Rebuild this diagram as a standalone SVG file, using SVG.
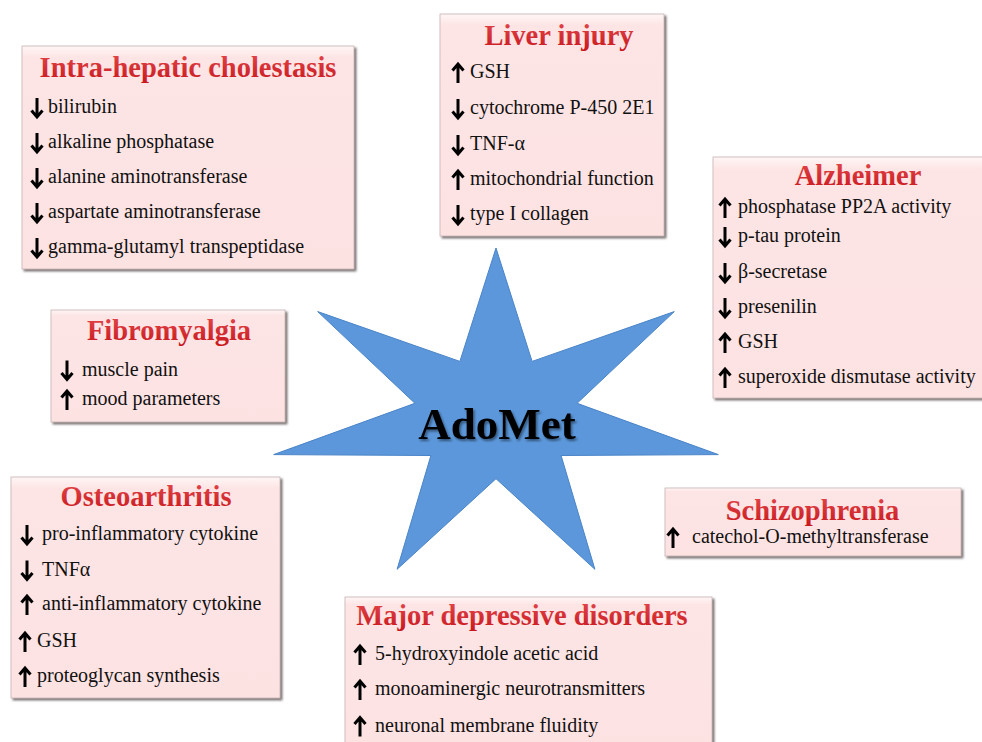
<svg xmlns="http://www.w3.org/2000/svg" xmlns:xlink="http://www.w3.org/1999/xlink" width="982" height="742" viewBox="0 0 982 742">
<defs>
<style>
.box{fill:url(#pink);stroke:#c9b3b3;stroke-width:0.8;filter:url(#sh)}
.title{font-family:"Liberation Serif","Times New Roman",serif;font-weight:bold;font-size:28.5px;fill:url(#red);text-anchor:middle}
.item{font-family:"Liberation Serif","Times New Roman",serif;font-size:20px;fill:#111}
.arr{fill:none;stroke:#000;stroke-width:3;stroke-linejoin:miter;stroke-linecap:butt}
.center{font-family:"Liberation Serif","Times New Roman",serif;font-weight:bold;font-size:45px;fill:#000;text-anchor:middle;filter:url(#tsh)}
</style>
<linearGradient id="pink" x1="0" y1="0" x2="0" y2="1">
<stop offset="0" stop-color="#fff6f6"/>
<stop offset="0.05" stop-color="#fde5e5"/>
<stop offset="1" stop-color="#fde2e2"/>
</linearGradient>
<linearGradient id="red" x1="0" y1="0" x2="0" y2="1">
<stop offset="0" stop-color="#e2474b"/>
<stop offset="1" stop-color="#c8181e"/>
</linearGradient>
<filter id="sh" x="-5%" y="-5%" width="112%" height="115%">
<feDropShadow dx="2" dy="2" stdDeviation="1.2" flood-color="#5f5555" flood-opacity="0.85"/>
</filter>
<filter id="tsh" x="-10%" y="-20%" width="120%" height="140%">
<feDropShadow dx="1.5" dy="2" stdDeviation="1.2" flood-color="#000" flood-opacity="0.45"/>
</filter>
<g id="up"><path class="arr" d="M0,10 V-8 M-5.5,-2.5 L0,-9 L5.5,-2.5"/></g>
<g id="dn"><path class="arr" d="M0,-10 V8 M-5.5,2.5 L0,9 L5.5,2.5"/></g>
</defs>

<rect width="982" height="742" fill="#ffffff"/>

<g id="star">
<polygon points="496,248 532.1,361.4 674.3,311.6 577.1,403.3 718.3,454.6 561.1,455.5 594.9,569.3 496,478.7 397.1,569.3 430.9,455.5 273.7,454.6 414.9,403.3 317.7,311.6 459.9,361.4" fill="#5b97da" stroke="#4a84c8" stroke-width="1"/>
<text class="center" x="497" y="439">AdoMet</text>
</g>

<g id="cholestasis">
<rect class="box" x="22" y="46" width="332" height="223"/>
<text class="title" x="188" y="77">Intra-hepatic cholestasis</text>
<use href="#dn" x="37" y="108"/><text class="item" x="48" y="112.5">bilirubin</text>
<use href="#dn" x="37" y="143"/><text class="item" x="48" y="148">alkaline phosphatase</text>
<use href="#dn" x="37" y="178"/><text class="item" x="48" y="183">alanine aminotransferase</text>
<use href="#dn" x="37" y="213"/><text class="item" x="48" y="218">aspartate aminotransferase</text>
<use href="#dn" x="37" y="248"/><text class="item" x="48" y="253">gamma-glutamyl transpeptidase</text>
</g>

<g id="liver">
<rect class="box" x="440" y="14" width="224" height="222"/>
<text class="title" x="559" y="45">Liver injury</text>
<use href="#up" x="458" y="73"/><text class="item" x="470" y="78">GSH</text>
<use href="#dn" x="458" y="109"/><text class="item" x="470" y="114">cytochrome P-450 2E1</text>
<use href="#dn" x="458" y="145"/><text class="item" x="470" y="150">TNF-α</text>
<use href="#up" x="458" y="180"/><text class="item" x="470" y="185">mitochondrial function</text>
<use href="#dn" x="458" y="215"/><text class="item" x="470" y="220">type I collagen</text>
</g>

<g id="alzheimer">
<rect class="box" x="713" y="157" width="275" height="241"/>
<text class="title" x="858" y="185">Alzheimer</text>
<use href="#up" x="725" y="208"/><text class="item" x="738" y="213">phosphatase PP2A activity</text>
<use href="#dn" x="725" y="237"/><text class="item" x="738" y="242">p-tau protein</text>
<use href="#dn" x="725" y="273"/><text class="item" x="738" y="278">β-secretase</text>
<use href="#dn" x="725" y="308"/><text class="item" x="738" y="313">presenilin</text>
<use href="#up" x="725" y="343"/><text class="item" x="738" y="348">GSH</text>
<use href="#up" x="725" y="378"/><text class="item" x="738" y="383">superoxide dismutase activity</text>
</g>

<g id="fibromyalgia">
<rect class="box" x="51" y="310" width="234" height="112"/>
<text class="title" x="169" y="340">Fibromyalgia</text>
<use href="#dn" x="67" y="370.5"/><text class="item" x="82" y="375.5">muscle pain</text>
<use href="#up" x="67" y="400"/><text class="item" x="82" y="405">mood parameters</text>
</g>

<g id="osteoarthritis">
<rect class="box" x="11" y="477" width="269" height="221"/>
<text class="title" x="146" y="506">Osteoarthritis</text>
<use href="#dn" x="27" y="535"/><text class="item" x="42" y="540">pro-inflammatory cytokine</text>
<use href="#dn" x="27" y="570.5"/><text class="item" x="42" y="575.5">TNFα</text>
<use href="#up" x="27" y="605"/><text class="item" x="42" y="610">anti-inflammatory cytokine</text>
<use href="#up" x="25" y="642"/><text class="item" x="37" y="647">GSH</text>
<use href="#up" x="25" y="677"/><text class="item" x="37" y="682">proteoglycan synthesis</text>
</g>

<g id="depressive">
<rect class="box" x="345" y="597" width="367" height="152"/>
<text class="title" x="522" y="625">Major depressive disorders</text>
<use href="#up" x="360" y="655"/><text class="item" x="375" y="660">5-hydroxyindole acetic acid</text>
<use href="#up" x="360" y="690"/><text class="item" x="375" y="695">monoaminergic neurotransmitters</text>
<use href="#up" x="360" y="726.5"/><text class="item" x="375" y="731.5">neuronal membrane fluidity</text>
</g>

<g id="schizophrenia">
<rect class="box" x="665" y="488" width="296" height="68"/>
<text class="title" x="812.5" y="520">Schizophrenia</text>
<use href="#up" x="673" y="538"/><text class="item" x="692" y="543">catechol-O-methyltransferase</text>
</g>

<g id="connectors"></g>
</svg>
